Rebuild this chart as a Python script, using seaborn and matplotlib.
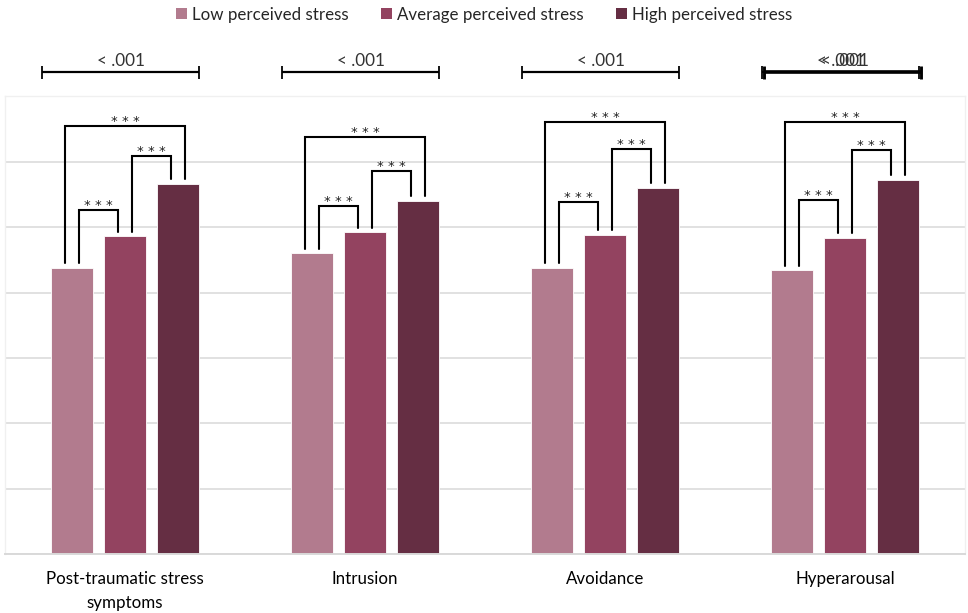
import numpy as np
import pandas as pd
import matplotlib
matplotlib.use("Agg")
import matplotlib.pyplot as plt
import seaborn as sns
from matplotlib.patches import Patch

# Mean symptom scores by perceived-stress group
domains = ["Post-traumatic stress\nsymptoms", "Intrusion", "Avoidance", "Hyperarousal"]
groups = ["Low perceived stress", "Average perceived stress", "High perceived stress"]
low_stress = [2.19, 2.30, 2.19, 2.17]
average_stress = [2.43, 2.46, 2.44, 2.42]
high_stress = [2.83, 2.70, 2.80, 2.86]
omnibus_p = ["< .001", "< .001", "< .001", "< .001"]
pairwise_sig = {"low-average": ["* * *"] * 4,
                "average-high": ["* * *"] * 4,
                "low-high": ["* * *"] * 4}
palette = ["#B27B8E", "#934360", "#652E43"]

df = pd.DataFrame({
    "domain": domains * 3,
    "group": [g for g in groups for _ in domains],
    "score": low_stress + average_stress + high_stress,
})

sns.set_theme(style="white")
plt.rcParams["font.family"] = ["Lato", "DejaVu Sans"]

W, H = 968, 613
fig = plt.figure(figsize=(W / 100, H / 100), dpi=100)
ax_bottom, ax_top = 554.3, 96.3
ax = fig.add_axes([5 / W, (H - ax_bottom) / H, 960 / W, (ax_bottom - ax_top) / H])

sns.barplot(data=df, x="domain", y="score", hue="group", order=domains,
            hue_order=groups, palette=palette, saturation=1, width=0.66, gap=0.2,
            edgecolor="white", linewidth=0.6, legend=False, ax=ax)

ax.set_xlim(-0.5, 3.5)
ax.set_ylim(0, 3.5)
ax.set_yticks(np.arange(0, 3.51, 0.5))
ax.set_yticklabels([])
ax.yaxis.grid(True, color="#D9D9D9", linewidth=1.1)
ax.set_axisbelow(True)
ax.set_xlabel("")
ax.set_ylabel("")
ax.tick_params(axis="both", length=0)
ax.tick_params(axis="x", pad=12, labelsize=12.2, labelcolor="black")
for lbl in ax.get_xticklabels():
    lbl.set_linespacing(1.65)
for side in ["left", "right", "top"]:
    ax.spines[side].set_color("#F0F0F0")
    ax.spines[side].set_linewidth(1)
ax.spines["bottom"].set_color("#D9D9D9")
ax.spines["bottom"].set_linewidth(1.4)

# bar centres and heights straight from the drawn patches
centres = [[bar.get_x() + bar.get_width() / 2 for bar in c] for c in ax.containers]
heights = [[bar.get_height() for bar in c] for c in ax.containers]

leg_off = 0.03     # horizontal offset of bracket legs from bar centre
leg_gap = 0.035    # space between bar top and bracket leg
lift_low_avg = [0.20, 0.20, 0.25, 0.29]
lift_avg_high = [0.21, 0.23, 0.30, 0.23]
lift_low_high = [0.44, 0.49, 0.50, 0.44]

def bracket(x1, x2, y1, y2, top, label):
    ax.plot([x1, x1, x2, x2], [y1, top, top, y2], color="black",
            lw=1.5, solid_joinstyle="miter", clip_on=False, zorder=5)
    ax.annotate(label, xy=((x1 + x2) / 2, top), xytext=(0, 0.8),
                textcoords="offset points", ha="center", va="baseline",
                fontsize=9.5, family="DejaVu Sans", color="#222222")

for i in range(len(domains)):
    cl, ca, ch = centres[0][i], centres[1][i], centres[2][i]
    hl, ha_, hh = heights[0][i], heights[1][i], heights[2][i]
    bracket(cl + leg_off, ca - leg_off, hl + leg_gap, ha_ + leg_gap,
            ha_ + lift_low_avg[i], pairwise_sig["low-average"][i])
    bracket(ca + leg_off, ch - leg_off, ha_ + leg_gap, hh + leg_gap,
            hh + lift_avg_high[i], pairwise_sig["average-high"][i])
    bracket(cl - leg_off, ch + leg_off, hl + leg_gap, hh + leg_gap,
            hh + lift_low_high[i], pairwise_sig["low-high"][i])

# omnibus p-value spans above the plot area
tr = ax.get_xaxis_transform()
px = 1 / (ax_bottom - ax_top)
span_y = 1 + (ax_top - 72.3) * px
cap = 6.5 * px

def span(i, dx=0.0, lw=1.6, text_dx=0.0):
    x0, x1 = i - 0.345 + dx, i + 0.31 + dx
    ax.plot([x0, x1], [span_y, span_y], color="black", lw=lw,
            transform=tr, clip_on=False, solid_capstyle="butt")
    for x in (x0, x1):
        ax.plot([x, x], [span_y - cap, span_y + cap], color="black", lw=lw * 0.8,
                transform=tr, clip_on=False, solid_capstyle="butt")
    ax.annotate(omnibus_p[i], xy=((x0 + x1) / 2, span_y), xycoords=tr,
                xytext=(text_dx, 4.5), textcoords="offset points",
                ha="center", va="baseline", fontsize=12.3, color="#333333")

for i in range(len(domains)):
    span(i)
# the last span is printed twice, slightly displaced
span(3, dx=0.008, lw=2.6, text_dx=1.8)

handles = [Patch(facecolor=c, edgecolor="none", label=g) for c, g in zip(palette, groups)]
fig.legend(handles=handles, loc="upper center", bbox_to_anchor=(0.5005, 1.0),
           ncol=3, frameon=False, fontsize=12.2, handlelength=0.65,
           handleheight=0.65, handletextpad=0.3, columnspacing=1.9,
           borderaxespad=0.0)

fig.savefig("out.png", dpi=100)
